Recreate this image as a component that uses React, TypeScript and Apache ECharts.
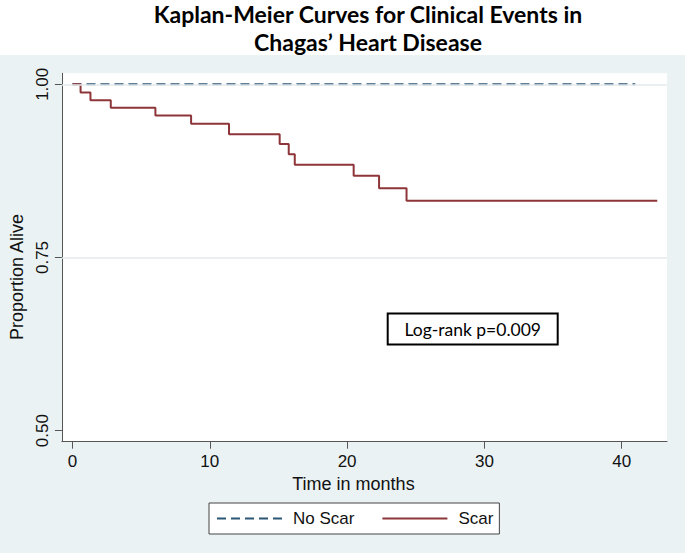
import React, { useEffect, useRef } from "react";
import * as echarts from "echarts";

const titleLines = ["Kaplan-Meier Curves for Clinical Events in", "Chagas’ Heart Disease"];
const xTicks = [0, 10, 20, 30, 40];
const yTicks = [0.5, 0.75, 1.0];
const gridValues = [0.75, 1.0];
const seriesNames = ["No Scar", "Scar"];
const noScarTimes = [0, 40.99];
const noScarSurvival = [1, 1];
const scarTimes = [0, 0.59, 1.31, 2.79, 6.04, 8.64, 11.4, 15.09, 15.75, 16.19, 20.48, 22.33, 24.33, 42.59];
const scarSurvival = [1.0, 0.988, 0.977, 0.966, 0.955, 0.943, 0.928, 0.914, 0.899, 0.884, 0.868, 0.85, 0.832, 0.832];
const xAxisTitle = "Time in months";
const yAxisTitle = "Proportion Alive";
const annotation = "Log-rank p=0.009";

const NO_SCAR_COLOR = "#2c5675";
const SCAR_COLOR = "#8e3539";
const AXIS_COLOR = "#555";
const TEXT_COLOR = "#111";
const SANS = "'Liberation Sans', Arial, sans-serif";
const HUMANIST = "Lato, 'Open Sans', sans-serif";

export default function App() {
  const ref = useRef<HTMLDivElement>(null);

  useEffect(() => {
    document.body.style.margin = "0";
    if (!ref.current) return;
    const chart = echarts.init(ref.current, null, { renderer: "svg" });
    const option: any = {
      animation: false,
      title: {
        text: titleLines.join("\n"),
        left: 368,
        top: 0,
        textAlign: "center",
        padding: 0,
        textStyle: {
          fontFamily: HUMANIST,
          fontWeight: "bold",
          fontSize: 23,
          lineHeight: 28,
          color: "#000",
        },
      },
      grid: {
        left: 51.7,
        right: 18,
        top: 73.3,
        bottom: 111.3,
        show: true,
        backgroundColor: "#fff",
        borderWidth: 0,
      },
      legend: {
        data: seriesNames.map((n) => ({ name: n })),
        left: 209,
        top: 503,
        orient: "horizontal",
        itemWidth: 65,
        itemHeight: 14,
        itemGap: 27,
        padding: [7, 6, 7, 7],
        backgroundColor: "#fff",
        borderColor: "#444",
        borderWidth: 1,
        borderRadius: 0,
        selectedMode: false,
        itemStyle: { opacity: 0 },
        textStyle: {
          fontSize: 17,
          fontFamily: SANS,
          color: TEXT_COLOR,
          padding: [0, 0, 0, 6],
        },
      },
      xAxis: {
        type: "value",
        min: -0.77,
        max: 43.3,
        name: xAxisTitle,
        nameLocation: "middle",
        nameGap: 31,
        nameTextStyle: {
          fontSize: 18,
          fontFamily: SANS,
          color: TEXT_COLOR,
          padding: [0, 22, 0, 0],
        },
        axisLine: { show: true, onZero: false, lineStyle: { color: AXIS_COLOR, width: 1 } },
        axisTick: { show: true, customValues: xTicks, length: 7, lineStyle: { color: AXIS_COLOR } },
        axisLabel: {
          customValues: xTicks,
          margin: 11,
          fontSize: 17,
          fontFamily: SANS,
          color: TEXT_COLOR,
        },
        splitLine: { show: false },
      },
      yAxis: {
        type: "value",
        min: 0.484,
        max: 1.0159,
        name: yAxisTitle,
        nameLocation: "middle",
        nameGap: 30,
        nameRotate: 90,
        nameTextStyle: {
          fontSize: 18,
          fontFamily: SANS,
          color: TEXT_COLOR,
          padding: [0, 39, 0, 0],
        },
        axisLine: { show: true, onZero: false, lineStyle: { color: AXIS_COLOR, width: 1 } },
        axisTick: { show: true, customValues: yTicks, length: 7, lineStyle: { color: AXIS_COLOR } },
        axisLabel: {
          customValues: yTicks,
          rotate: 90,
          margin: 11,
          fontSize: 17,
          fontFamily: SANS,
          color: TEXT_COLOR,
          formatter: (v: number) => v.toFixed(2),
        },
        splitLine: { show: false },
      },
      graphic: [
        {
          type: "group",
          left: 386.7,
          top: 312.5,
          z: 100,
          children: [
            {
              type: "rect",
              shape: { x: 0, y: 0, width: 170, height: 31 },
              style: { fill: "#fff", stroke: "#000", lineWidth: 2 },
            },
            {
              type: "text",
              x: 85,
              y: 16,
              style: {
                text: annotation,
                align: "center",
                verticalAlign: "middle",
                fontSize: 17.5,
                fontFamily: HUMANIST,
                fill: "#000",
              },
            },
          ],
        },
      ],
      series: [
        {
          type: "line",
          name: "grid",
          data: [],
          silent: true,
          z: 1,
          markLine: {
            silent: true,
            symbol: "none",
            label: { show: false },
            lineStyle: { color: "#e3eaec", width: 1.5, type: "solid" },
            data: gridValues.map((v) => ({ yAxis: v })),
          },
        },
        {
          type: "line",
          name: seriesNames[0],
          data: noScarTimes.map((t, i) => [t, noScarSurvival[i]]),
          symbol: "none",
          showSymbol: false,
          z: 3,
          itemStyle: { color: NO_SCAR_COLOR },
          lineStyle: { color: NO_SCAR_COLOR, width: 2, type: [9, 5] },
        },
        {
          type: "line",
          name: seriesNames[1],
          step: "end",
          data: scarTimes.map((t, i) => [t, scarSurvival[i]]),
          symbol: "none",
          showSymbol: false,
          z: 4,
          itemStyle: { color: SCAR_COLOR },
          lineStyle: { color: SCAR_COLOR, width: 2 },
        },
      ],
    };
    chart.setOption(option);
    return () => chart.dispose();
  }, []);

  return (
    <div
      ref={ref}
      style={{
        width: 685,
        height: 553,
        background: "linear-gradient(#ffffff 0px, #ffffff 55px, #eaf2f3 55px, #eaf2f3 100%)",
      }}
    />
  );
}
